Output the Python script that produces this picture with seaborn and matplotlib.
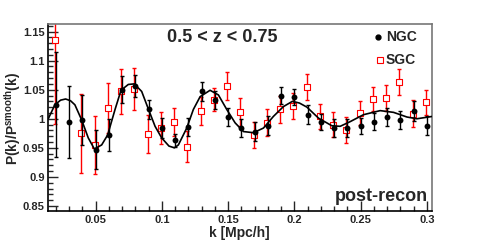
import numpy as np
import pandas as pd
import matplotlib
matplotlib.use("Agg")
import matplotlib.pyplot as plt
import seaborn as sns
from matplotlib.ticker import MultipleLocator

# k bins (h/Mpc)
k_bins = [0.02, 0.03, 0.04, 0.05, 0.06, 0.07, 0.08, 0.09, 0.10, 0.11,
          0.12, 0.13, 0.14, 0.15, 0.16, 0.17, 0.18, 0.19, 0.20, 0.21,
          0.22, 0.23, 0.24, 0.25, 0.26, 0.27, 0.28, 0.29, 0.30]

# NGC ratio and errors
ngc_ratio = [1.024, 0.994, 0.998, 0.947, 0.972, 1.050, 1.057, 1.016, 0.984, 0.963,
             0.986, 1.047, 1.032, 1.003, 0.984, 0.978, 0.988, 1.040, 1.038, 1.007,
             0.994, 0.984, 0.984, 0.987, 0.995, 1.003, 0.998, 1.013, 0.988]
ngc_err = [0.090, 0.062, 0.043, 0.033, 0.027, 0.023, 0.019, 0.017, 0.017, 0.011,
           0.016, 0.017, 0.016, 0.016, 0.016, 0.017, 0.016, 0.014, 0.014, 0.016,
           0.014, 0.015, 0.015, 0.014, 0.015, 0.016, 0.016, 0.017, 0.016]

# SGC ratio and errors (no point visible at k=0.03)
sgc_ratio = [1.136, np.nan, 0.975, 0.955, 1.018, 1.047, 1.051, 0.974, 0.984, 0.995,
             0.952, 1.013, 1.033, 1.057, 1.011, 0.972, 0.993, 1.016, 1.022, 1.055,
             1.004, 0.990, 0.981, 1.010, 1.034, 1.036, 1.063, 1.009, 1.028]
sgc_err = [0.145, np.nan, 0.068, 0.050, 0.043, 0.038, 0.036, 0.033, 0.028, 0.024,
           0.027, 0.024, 0.020, 0.024, 0.024, 0.022, 0.023, 0.023, 0.023, 0.022,
           0.022, 0.021, 0.022, 0.021, 0.021, 0.022, 0.022, 0.024, 0.022]

# best-fit model curve
model_k = [0.0142, 0.0192, 0.0235, 0.0273, 0.0310, 0.0343, 0.0394, 0.0444, 0.0490,
           0.0545, 0.0590, 0.0646, 0.0691, 0.0746, 0.0791, 0.0847, 0.0897, 0.0948,
           0.0998, 0.1053, 0.1094, 0.1124, 0.1187, 0.1237, 0.1288, 0.1363, 0.1426,
           0.1489, 0.1552, 0.1615, 0.1690, 0.1766, 0.1841, 0.1917, 0.1985, 0.2038,
           0.2094, 0.2182, 0.2282, 0.2345, 0.2420, 0.2521, 0.2647, 0.2748, 0.2849,
           0.2924, 0.3040]
model_ratio = [1.000, 1.024, 1.032, 1.034, 1.031, 1.024, 0.998, 0.967, 0.948,
               0.955, 0.972, 1.016, 1.049, 1.059, 1.060, 1.047, 1.017, 0.987,
               0.967, 0.953, 0.950, 0.955, 0.984, 1.016, 1.038, 1.049, 1.041,
               1.016, 0.993, 0.978, 0.976, 0.984, 1.004, 1.021, 1.030, 1.027,
               1.020, 1.001, 0.988, 0.987, 0.995, 1.007, 1.014, 1.011, 1.003,
               1.000, 1.004]

ngc = pd.DataFrame({"k": k_bins, "ratio": ngc_ratio, "err": ngc_err})
sgc = pd.DataFrame({"k": np.array(k_bins) - 0.0008, "ratio": sgc_ratio, "err": sgc_err}).dropna()
model = pd.DataFrame({"k": model_k, "ratio": model_ratio})

sns.set_style("ticks")
plt.rcParams['font.family'] = ['Liberation Sans', 'DejaVu Sans']
plt.rcParams['font.weight'] = 'bold'
plt.rcParams['mathtext.fontset'] = 'custom'
plt.rcParams['mathtext.rm'] = 'Liberation Sans:bold'
plt.rcParams['mathtext.bf'] = 'Liberation Sans:bold'

fig = plt.figure(figsize=(4.8, 2.4), dpi=100)
ax = fig.add_axes([0.1, 0.12, 0.8, 0.78])

# SGC
ax.errorbar(sgc["k"], sgc["ratio"], yerr=sgc["err"], fmt="none", ecolor="#ff0000",
            elinewidth=1.0, capsize=1.5, capthick=1.0, zorder=2)
sns.scatterplot(data=sgc, x="k", y="ratio", ax=ax, marker="s", s=22,
                facecolor="white", edgecolor="#ff0000", linewidth=0.8, zorder=3)
# NGC
ax.errorbar(ngc["k"], ngc["ratio"], yerr=ngc["err"], fmt="none", ecolor="black",
            elinewidth=1.0, capsize=1.5, capthick=1.0, zorder=4)
sns.scatterplot(data=ngc, x="k", y="ratio", ax=ax, marker="o", s=18,
                color="black", edgecolor="black", linewidth=0, zorder=5)
# model
sns.lineplot(data=model, x="k", y="ratio", ax=ax, color="black", linewidth=1.2,
             zorder=6, sort=False)

ax.set_xlim(0.014, 0.3038)
ax.set_ylim(0.841, 1.163)
ax.xaxis.set_minor_locator(MultipleLocator(0.01))
ax.yaxis.set_minor_locator(MultipleLocator(0.01))
ax.set_xticks([0.05, 0.1, 0.15, 0.2, 0.25, 0.3])
ax.set_xticklabels(["0.05", "0.1", "0.15", "0.2", "0.25", "0.3"])
ax.set_yticks([0.85, 0.9, 0.95, 1.0, 1.05, 1.1, 1.15])
ax.set_yticklabels(["0.85", "0.9", "0.95", "1", "1.05", "1.1", "1.15"])
ax.tick_params(which="major", direction="in", length=7, width=1, labelsize=8, pad=2.5)
ax.tick_params(which="minor", direction="in", length=3.5, width=1)
for lab in ax.get_xticklabels() + ax.get_yticklabels():
    lab.set_fontweight("bold")

for side in ["left", "bottom"]:
    ax.spines[side].set_color("black")
    ax.spines[side].set_linewidth(1.2)
for side in ["top", "right"]:
    ax.spines[side].set_visible(True)
    ax.spines[side].set_color("#777777")
    ax.spines[side].set_linewidth(1.2)

ax.set_xlabel("")
ax.set_ylabel("")
fig.text(0.498, 1 - 233 / 240, "k [Mpc/h]", fontsize=10, fontweight="bold",
         ha="center", va="center")
fig.text(13 / 480, 0.506, r"P(k)/P$^{\mathrm{smooth}}$(k)", fontsize=10,
         fontweight="bold", ha="center", va="center", rotation=90)

ax.text(0.453, 0.93, "0.5 < z < 0.75", transform=ax.transAxes, fontsize=13,
        fontweight="bold", ha="center", va="center")
ax.text(0.99, 0.08, "post-recon", transform=ax.transAxes, fontsize=13,
        fontweight="bold", ha="right", va="center")

# legend
ax.plot([0.86], [0.93], transform=ax.transAxes, marker="o", color="black",
        markersize=3.5, linestyle="none")
ax.text(0.88, 0.93, "NGC", transform=ax.transAxes, fontsize=10,
        fontweight="bold", ha="left", va="center")
ax.plot([0.864], [0.807], transform=ax.transAxes, marker="s", markerfacecolor="white",
        markeredgecolor="#ff0000", markersize=4.5, markeredgewidth=0.8, linestyle="none")
ax.text(0.88, 0.807, "SGC", transform=ax.transAxes, fontsize=10,
        fontweight="bold", ha="left", va="center")

fig.savefig("out.png", dpi=100)
